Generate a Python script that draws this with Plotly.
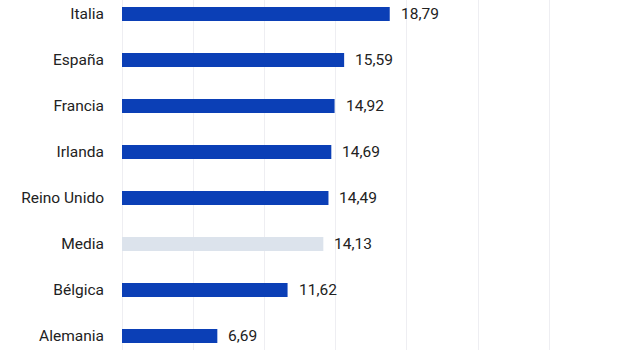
import plotly.graph_objects as go

countries = ["Italia", "España", "Francia", "Irlanda", "Reino Unido", "Media", "Bélgica", "Alemania"]
values = [18.79, 15.59, 14.92, 14.69, 14.49, 14.13, 11.62, 6.69]
highlight = "Media"

BLUE = "#0b3fb6"
GREY = "#dce3ec"
colors = [GREY if c == highlight else BLUE for c in countries]
FONT = "Roboto, Arial, sans-serif"
TEXT = "#222222"

fig = go.Figure(go.Bar(
    x=values, y=countries, orientation="h",
    marker=dict(color=colors, line=dict(width=0)),
    hoverinfo="skip",
))

for c, v in zip(countries, values):
    fig.add_annotation(
        x=v, y=c, text=f"{v:.2f}".replace(".", ","),
        xanchor="left", yanchor="middle", xshift=9, showarrow=False,
        font=dict(family=FONT, size=15.5, color=TEXT),
    )

n = len(countries)
fig.update_layout(
    width=620, height=350,
    margin=dict(l=122, r=0, t=0, b=0),
    paper_bgcolor="white", plot_bgcolor="white",
    bargap=0.7, showlegend=False,
    xaxis=dict(range=[0, 34.95], dtick=5, showticklabels=False,
               showgrid=True, gridcolor="#eeeef2", gridwidth=1,
               zeroline=True, zerolinecolor="#eeeef2", zerolinewidth=1,
               fixedrange=True),
    yaxis=dict(type="category", categoryorder="array", categoryarray=countries,
               range=[n - 1 + 14 / 46, -14 / 46], showgrid=False,
               tickfont=dict(family=FONT, size=15.5, color=TEXT),
               ticklabelstandoff=17, fixedrange=True),
)

fig.write_html("out.html", config={"displayModeBar": False})
